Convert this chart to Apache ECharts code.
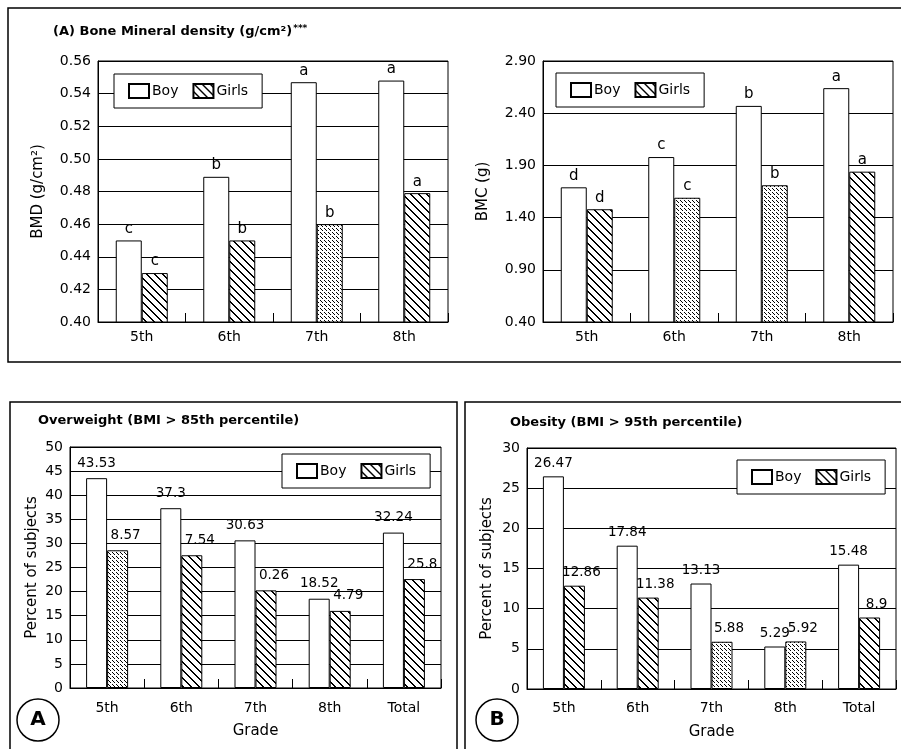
<!DOCTYPE html>
<html><head><meta charset="utf-8">
<script src="https://cdn.jsdelivr.net/npm/echarts@6/dist/echarts.min.js"></script>
<style>html,body{margin:0;padding:0;background:#fff}#c{width:901px;height:749px}</style>
</head><body><div id="c"></div>
<script>
// ---- data ----
const grades = ['5th','6th','7th','8th'];
const gradesTotal = ['5th','6th','7th','8th','Total'];
const bmdBoy = [0.450, 0.489, 0.547, 0.548];
const bmdGirls = [0.430, 0.450, 0.460, 0.479];
const bmdBoyLetters = ['c','b','a','a'];
const bmdGirlsLetters = ['c','b','b','a'];
const bmcBoy = [1.69, 1.98, 2.47, 2.64];
const bmcGirls = [1.48, 1.59, 1.71, 1.84];
const bmcBoyLetters = ['d','c','b','a'];
const bmcGirlsLetters = ['d','c','b','a'];
const owBoy = [43.53, 37.3, 30.63, 18.52, 32.24];
const owGirls = [28.57, 27.54, 20.26, 16.0, 22.6];
const owBoyLabels = ['43.53','37.3','30.63','18.52','32.24'];
const owGirlsLabels = ['8.57','7.54','0.26','4.79','25.8'];
const obBoy = [26.47, 17.84, 13.13, 5.29, 15.48];
const obGirls = [12.86, 11.38, 5.88, 5.92, 8.9];
const obBoyLabels = ['26.47','17.84','13.13','5.29','15.48'];
const obGirlsLabels = ['12.86','11.38','5.88','5.92','8.9'];
const bmdTicks = [0.40,0.56,0.02];
const bmcTicks = [0.40,2.90,0.50];
const owTicks = [0,50,5];
const obTicks = [0,30,5];

// ---- patterns ----
function sparse(){
  const s=8,c=document.createElement('canvas');c.width=c.height=s;
  const x=c.getContext('2d');x.fillStyle='#fff';x.fillRect(0,0,s,s);x.fillStyle='#000';
  for(let i=0;i<s;i++){x.fillRect(i,i,1,1);x.fillRect((i+1)%s,i,1,1);}
  return {image:c,repeat:'repeat'};
}
function dense(){
  const s=8,c=document.createElement('canvas');c.width=c.height=s;
  const x=c.getContext('2d');x.fillStyle='#fff';x.fillRect(0,0,s,s);x.fillStyle='#000';
  for(let i=0;i<s;i++){ if(i%4===3) continue; x.fillRect(i%s,i,1,1);x.fillRect((i+4)%s,i,1,1);}
  return {image:c,repeat:'repeat'};
}
const SP = sparse(), DN = dense();
// which girls' bars use the fine dotted hatch (style)
const denseIdx = [[2],[1,2],[0],[2,3]];

const FF = 'DejaVu Sans';
const grids = [
  {left:98, top:61, width:350, height:261},
  {left:543, top:61, width:350, height:261},
  {left:70, top:447, width:371, height:241},
  {left:527, top:448, width:369, height:241}
].map(g=>Object.assign(g,{show:true,borderColor:'#000',borderWidth:1,backgroundColor:'transparent'}));

function xAx(i,data,nameTxt,margin){
  return {type:'category',gridIndex:i,data:data,
    axisLine:{lineStyle:{color:'#000',width:1}},
    axisTick:{show:true,inside:true,length:9,alignWithLabel:false,lineStyle:{color:'#000'}},
    axisLabel:{color:'#000',fontSize:14,fontFamily:FF,margin:margin},
    name:nameTxt,nameLocation:'middle',nameGap:36,
    nameTextStyle:{color:'#000',fontSize:15,fontFamily:FF}};
}
function yAx(i,t,nameTxt,gap,dec){
  return {type:'value',gridIndex:i,min:t[0],max:t[1],interval:t[2],
    axisLine:{show:true,lineStyle:{color:'#000'}},axisTick:{show:false},
    splitLine:{show:true,lineStyle:{color:'#000',width:1}},
    axisLabel:{color:'#000',fontSize:14,fontFamily:FF,margin:7,
      formatter:v=>dec?Number(v).toFixed(dec):String(Math.round(v))},
    name:nameTxt,nameLocation:'middle',nameGap:gap,
    nameTextStyle:{color:'#000',fontSize:15,fontFamily:FF}};
}
function boySeries(i,vals,labels,bw,fs,dist){
  return {type:'bar',name:'Boy',xAxisIndex:i,yAxisIndex:i,barWidth:bw,barGap:0,
    data:vals,itemStyle:{color:'#fff',borderColor:'#000',borderWidth:1},
    label:{show:true,position:'top',distance:dist,color:'#000',fontSize:fs,fontFamily:FF,
      formatter:p=>labels[p.dataIndex]},z:3};
}
function girlSeries(i,vals,labels,bw,fs,dist,off){
  return {type:'bar',name:'Girls',xAxisIndex:i,yAxisIndex:i,barWidth:bw,barGap:0,
    data:vals.map((v,k)=>({value:v,itemStyle:{color:denseIdx[i].includes(k)?DN:SP}})),
    itemStyle:{color:SP,borderColor:'#000',borderWidth:1},
    label:{show:true,position:'top',distance:dist,color:'#000',fontSize:fs,fontFamily:FF,offset:off,
      formatter:p=>labels[p.dataIndex]},z:3};
}
function legend(l,t){
  return {left:l,top:t,orient:'horizontal',data:['Boy','Girls'],icon:'rect',
    itemWidth:20,itemHeight:14,itemGap:14,padding:[9,14,9,14],
    borderColor:'#000',borderWidth:1,backgroundColor:'#fff',selectedMode:false,
    textStyle:{color:'#000',fontSize:14,fontFamily:FF,padding:[0,0,0,-2]},z:5};
}

const option = {
  animation:false,
  backgroundColor:'#fff',
  grid:grids,
  legend:[legend(114,74),legend(556,73),legend(282,454),legend(737,460)],
  xAxis:[xAx(0,grades,'',8),xAx(1,grades,'',8),xAx(2,gradesTotal,'Grade',13),xAx(3,gradesTotal,'Grade',12)],
  yAxis:[yAx(0,bmdTicks,'BMD (g/cm²)',52,2),yAx(1,bmcTicks,'BMC (g)',52,2),
         yAx(2,owTicks,'Percent of subjects',30,0),yAx(3,obTicks,'Percent of subjects',32,0)],
  series:[
    boySeries(0,bmdBoy,bmdBoyLetters,26,15,4),
    girlSeries(0,bmdGirls,bmdGirlsLetters,26,15,4,[0,0]),
    boySeries(1,bmcBoy,bmcBoyLetters,26,15,4),
    girlSeries(1,bmcGirls,bmcGirlsLetters,26,15,4,[0,0]),
    boySeries(2,owBoy,owBoyLabels,21,13.5,8),
    girlSeries(2,owGirls,owGirlsLabels,21,13.5,8,[8,0]),
    boySeries(3,obBoy,obBoyLabels,21,13.5,6),
    girlSeries(3,obGirls,obGirlsLabels,21,13.5,6,[7,0])
  ],
  graphic:[
    {type:'rect',shape:{x:8,y:8,width:910,height:354},style:{fill:'none',stroke:'#000',lineWidth:1.5},silent:true},
    {type:'rect',shape:{x:10,y:402,width:447,height:360},style:{fill:'none',stroke:'#000',lineWidth:1.5},silent:true},
    {type:'rect',shape:{x:465,y:402,width:450,height:360},style:{fill:'none',stroke:'#000',lineWidth:1.5},silent:true},
    {type:'text',left:53,top:24,style:{text:'{t|(A) Bone Mineral density (g/cm²)}{s|***}',
      rich:{t:{fontSize:13,fontWeight:'bold',fontFamily:FF,fill:'#000'},s:{fontSize:9,fontWeight:'bold',fontFamily:FF,fill:'#000',verticalAlign:'top',padding:[0,0,6,1]}}}},
    {type:'text',left:38,top:414,style:{text:'Overweight (BMI > 85th percentile)',fontSize:13,fontWeight:'bold',fontFamily:FF,fill:'#000'}},
    {type:'text',left:510,top:416,style:{text:'Obesity (BMI > 95th percentile)',fontSize:13,fontWeight:'bold',fontFamily:FF,fill:'#000'}},
    {type:'circle',shape:{cx:38,cy:720,r:21},style:{fill:'#fff',stroke:'#000',lineWidth:1.5}},
    {type:'text',x:38,y:720,style:{text:'A',fontSize:20,fontWeight:'bold',fontFamily:FF,fill:'#000',align:'center',verticalAlign:'middle'}},
    {type:'circle',shape:{cx:497,cy:720,r:21},style:{fill:'#fff',stroke:'#000',lineWidth:1.5}},
    {type:'text',x:497,y:720,style:{text:'B',fontSize:20,fontWeight:'bold',fontFamily:FF,fill:'#000',align:'center',verticalAlign:'middle'}}
  ]
};
const chart = echarts.init(document.getElementById('c'),null,{renderer:'canvas'});
chart.setOption(option);
</script></body></html>
